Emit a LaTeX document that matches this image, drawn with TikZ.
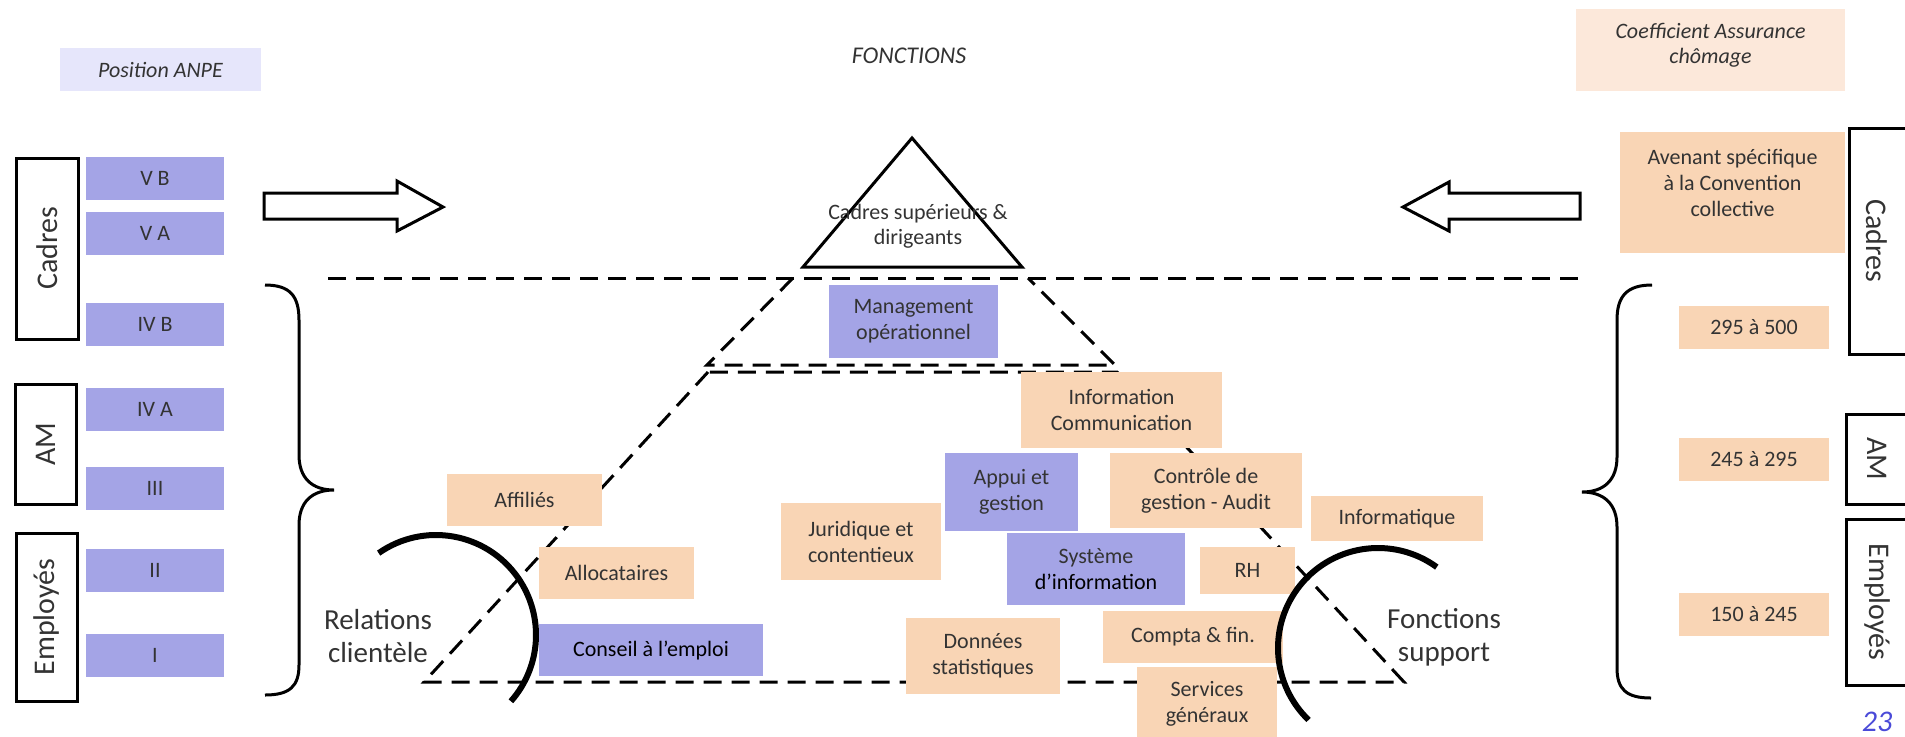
\documentclass[tikz,border=0pt]{standalone}
\usepackage{fontspec}
\setmainfont{Carlito}
\definecolor{blu}{HTML}{A4A4E6}
\definecolor{pch}{HTML}{F9D5B5}
\definecolor{lav}{HTML}{E6E6FB}
\definecolor{lpch}{HTML}{FCE8DA}
\definecolor{txt}{HTML}{333333}
\definecolor{pgn}{HTML}{4A4AD8}
\begin{document}
\begin{tikzpicture}[x=0.5pt,y=-0.5pt,
  sz/.style 2 args={minimum width={#1*0.5pt}, minimum height={#2*0.5pt}},
  box/.style={draw=none, inner sep=0pt, align=center, text=txt, font=\fontsize{11}{13}\selectfont},
  bbox/.style={box, fill=blu},
  pbox/.style={box, fill=pch},
  obox/.style={draw=black, line width=1.5pt, inner sep=0pt},
  vlab/.style={inner sep=0pt, text=txt, font=\fontsize{15}{18}\selectfont},
  biglab/.style={inner sep=0pt, align=center, text=txt, font=\fontsize{14.5}{16.5}\selectfont},
  dline/.style={line width=1.5pt, dash pattern=on 9pt off 5pt},
  solid line/.style={line width=1.5pt, line join=miter},
  brace line/.style={line width=1.5pt},
  arcline/.style={line width=3pt},
  blockarrow/.style={draw=black, fill=white, line width=1.5pt, line join=miter}
]
\useasboundingbox (0,0) rectangle (1905,736);

% ---- dashed pyramid structure ----
\draw[dline] (328,278) -- (1583,278);
\draw[dline] (793,278) -- (707,365) -- (1115,365) -- (1028,278);
\draw[dline] (708,372) -- (424,682) -- (1404,682) -- (1117,372) -- cycle;

% ---- top triangle ----
\draw[solid line] (912,138) -- (803,267) -- (1022,267) -- cycle;
\node[biglab, font=\fontsize{11}{12.5}\selectfont] (dir) at (918,226) {Cadres supérieurs \&\\dirigeants};

% ---- headers ----
\node[box, fill=lav, sz={201}{43}] (anpe) at (160.5,69.5) {};
\node[box, font=\fontsize{11}{13}\selectfont\itshape] (anpet) at (160.5,69.5) {Position ANPE};
\node[box, font=\fontsize{12}{14}\selectfont\itshape] (fct) at (909,56) {FONCTIONS};
\node[box, fill=lpch, sz={269}{82}] (coef) at (1710.5,50) {};
\node[box, font=\fontsize{11}{12.5}\selectfont\itshape] (coeft) at (1710.5,45.5) {Coefficient Assurance\\chômage};

% ---- block arrows ----
\draw[blockarrow] (264,193) -- (397,193) -- (397,181) -- (443,207) -- (397,231) -- (397,219) -- (264,219) -- cycle;
\draw[blockarrow] (1580,193) -- (1449,193) -- (1449,182) -- (1403,207) -- (1449,231) -- (1449,219) -- (1580,219) -- cycle;

% ---- left category boxes ----
\node[obox, sz={62}{181}] (cadL) at (47,248.5) {};
\node[vlab, rotate=90] (cadLt) at (cadL) {Cadres};
\node[obox, sz={61}{120}] (amL) at (45.5,444) {};
\node[vlab, rotate=90] (amLt) at (amL) {AM};
\node[obox, sz={61}{168}] (empL) at (46.5,617) {};
\node[vlab, rotate=90] (empLt) at (empL) {Employés};

% ---- ANPE positions ----
\node[bbox, sz={138}{43}] (vb) at (155,178.5) {V B};
\node[bbox, sz={138}{43}] (va) at (155,233.5) {V A};
\node[bbox, sz={138}{43}] (ivb) at (155,324.5) {IV B};
\node[bbox, sz={138}{43}] (iva) at (155,409.5) {IV A};
\node[bbox, sz={138}{43}] (iii) at (155,488.5) {III};
\node[bbox, sz={138}{43}] (ii) at (155,570.5) {II};
\node[bbox, sz={138}{43}] (i) at (155,655.5) {I};

% ---- left brace ----
\draw[brace line] (265,285) .. controls (290,285) and (299,296) .. (299,320) -- (299,455)
  .. controls (299,478) and (312,490) .. (334,490)
  .. controls (312,490) and (299,502) .. (299,525) -- (299,665)
  .. controls (299,686) and (290,695) .. (265,695);

% ---- right brace ----
\draw[brace line] (1652,285) .. controls (1627,285) and (1617,296) .. (1617,320) -- (1617,457)
  .. controls (1617,480) and (1604,492) .. (1582,492)
  .. controls (1604,492) and (1617,504) .. (1617,527) -- (1617,668)
  .. controls (1617,689) and (1626,698) .. (1651,698);

% ---- right side ----
\node[box, fill=pch, sz={225}{121}] (aven) at (1732.5,192.5) {};
\node[box] (avent) at (1732.5,183) {Avenant spécifique\\à la Convention\\collective};
\node[pbox, sz={150}{43}] (c1) at (1754,327.5) {295 à 500};
\node[pbox, sz={150}{43}] (c2) at (1754,459.5) {245 à 295};
\node[pbox, sz={150}{43}] (c3) at (1754,614.5) {150 à 245};

\draw[solid line] (1930,128) -- (1849,128) -- (1849,354) -- (1930,354);
\node[vlab, rotate=-90] (cadR) at (1877,241) {Cadres};
\draw[solid line] (1930,414) -- (1846,414) -- (1846,504) -- (1930,504);
\node[vlab, rotate=-90] (amR) at (1877,459) {AM};
\draw[solid line] (1930,519) -- (1846,519) -- (1846,685) -- (1930,685);
\node[vlab, rotate=-90] (empR) at (1877,602) {Employés};

% ---- central boxes ----
\node[bbox, sz={169}{73}] (mgt) at (913.5,321.5) {Management\\opérationnel};
\node[pbox, sz={201}{76}] (info) at (1121.5,410) {Information\\Communication};
\node[bbox, sz={133}{78}] (appui) at (1011.5,492) {Appui et\\gestion};
\node[pbox, sz={192}{75}] (ctrl) at (1206,490.5) {Contrôle de\\gestion - Audit};
\node[pbox, sz={172}{45}] (infq) at (1397,518.5) {Informatique};
\node[pbox, sz={160}{77}] (jur) at (861,541.5) {Juridique et\\contentieux};
\node[bbox, sz={178}{72}] (si) at (1096,569) {Système\\\textcolor{black}{d’information}};
\node[pbox, sz={95}{47}] (rh) at (1247.5,570.5) {RH};
\node[pbox, sz={155}{52}] (aff) at (524.5,500) {Affiliés};
\node[pbox, sz={155}{52}] (alloc) at (616.5,573) {Allocataires};
\node[bbox, sz={224}{52}, text=black] (cons) at (651,650) {Conseil à l’emploi};
\node[pbox, sz={154}{76}] (don) at (983,656) {Données\\statistiques};
\node[pbox, sz={180}{52}] (compta) at (1193,637) {Compta \& fin.};
\node[pbox, sz={140}{73}] (serv) at (1207,703.5) {Services\\généraux};

% ---- arcs ----
\draw[arcline] (436,635) ++(-125:100) arc[start angle=-125, end angle=41.5, radius=100];
\draw[arcline] (1378,648) ++(-54:100) arc[start angle=-54, end angle=-226, radius=100];

\node[biglab] (rel) at (378,636) {Relations\\clientèle};
\node[biglab] (fsup) at (1444,637) {Fonctions\\support};

% ---- page number ----
\node[inner sep=0pt, anchor=base, text=pgn, font=\fontsize{15}{18}\selectfont\itshape] (pg) at (1877,731) {23};
\end{tikzpicture}
\end{document}
